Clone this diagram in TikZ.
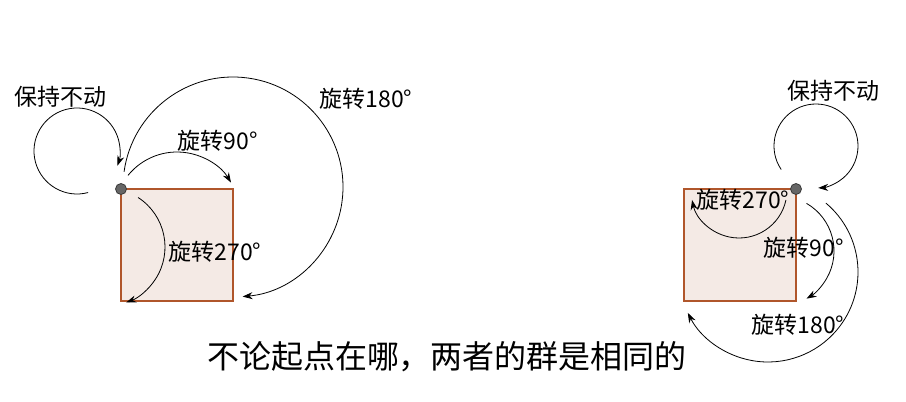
\documentclass[tikz,border=0pt]{standalone}
\usepackage{fontspec}
\setmainfont{Noto Sans CJK SC}
\usetikzlibrary{arrows.meta}
\definecolor{sqfill}{HTML}{F4EAE5}
\definecolor{sqedge}{HTML}{B0562B}
\definecolor{dotfill}{HTML}{666666}
\definecolor{dotedge}{HTML}{3A3A3A}
\tikzset{
  sqbox/.style={draw=sqedge,fill=sqfill,line width=1.4pt,minimum size=112pt,inner sep=0pt,outer sep=0pt},
  pivot/.style={circle,draw=dotedge,fill=dotfill,line width=0.8pt,minimum size=11pt,inner sep=0pt},
  rotarc/.style={line width=0.8pt,-{Stealth[length=10pt,width=7pt]}},
  lbl/.style={font=\fontsize{23}{25}\selectfont,inner sep=0pt},
  caption/.style={font=\fontsize{32}{36}\selectfont,inner sep=0pt}
}
\begin{document}
\begin{tikzpicture}[x=1pt,y=1pt]
\path[use as bounding box,fill=white] (0,0) rectangle (906,402);
% left square and pivot
\node[sqbox] (sqL) at (177,157) {};
\node[pivot] (pL) at (sqL.north west) {};
% left arcs
\coordinate (cStayL) at (77,251);
\coordinate (c90L) at (177,187);
\coordinate (c180L) at (233,215);
\coordinate (c270L) at (106,155);
\draw[rotarc] ([shift={(-75:43)}]cStayL) arc[start angle=-75,end angle=-380,radius=43];
\draw[rotarc] ([shift={(141:63)}]c90L) arc[start angle=141,end angle=31,radius=63];
\draw[rotarc] ([shift={(172:110)}]c180L) arc[start angle=172,end angle=-85,radius=110];
\draw[rotarc] ([shift={(57:59)}]c270L) arc[start angle=57,end angle=-70,radius=59];
\node[lbl] (tStayL) at (61,305) {保持不动};
\node[lbl] (t90L) at (218,261) {旋转90°};
\node[lbl] (t180L) at (366,303) {旋转180°};
\node[lbl] (t270L) at (215,150) {旋转270°};
% right square and pivot
\node[sqbox] (sqR) at (740,157) {};
% right arcs
\coordinate (cStayR) at (816,256);
\coordinate (c270R) at (739,212);
\coordinate (c90R) at (779,151);
\coordinate (c180R) at (768,130);
\draw[rotarc] ([shift={(214:42)}]cStayR) arc[start angle=214,end angle=-87,radius=42];
\draw[rotarc] ([shift={(-12:48)}]c270R) arc[start angle=-12,end angle=-168,radius=48];
\draw[rotarc] ([shift={(60:55)}]c90R) arc[start angle=60,end angle=-60,radius=55];
\draw[rotarc] ([shift={(50:90)}]c180R) arc[start angle=50,end angle=-153,radius=90];
\node[lbl] (tStayR) at (833,311) {保持不动};
\node[lbl] (t270R) at (743,202) {旋转270°};
\node[lbl] (t90R) at (804,154.5) {旋转90°};
\node[lbl] (t180R) at (798,77) {旋转180°};
\node[pivot] (pR) at (sqR.north east) {};
% caption
\node[caption] (cap) at (447,45) {不论起点在哪，两者的群是相同的};
\end{tikzpicture}
\end{document}
